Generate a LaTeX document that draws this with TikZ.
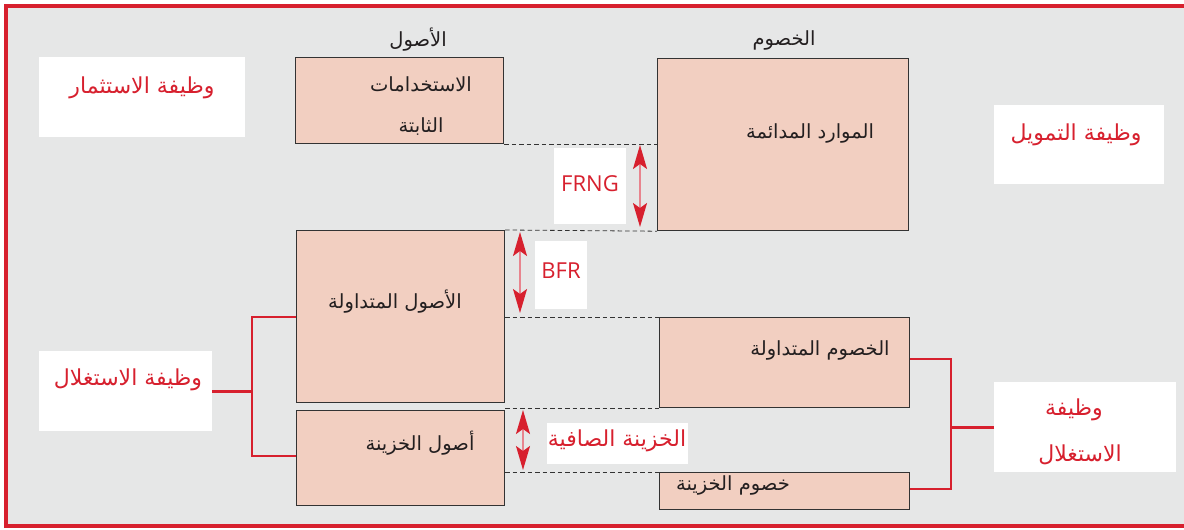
\documentclass[tikz,border=0pt]{standalone}
\usepackage{fontspec}
\setsansfont{Open Sans}
\newfontfamily\ar[Script=Arabic]{DejaVu Sans}
\TeXXeTstate=1
\usetikzlibrary{arrows.meta}
\definecolor{bgray}{HTML}{E6E7E7}
\definecolor{fred}{HTML}{D7202E}
\definecolor{shaft}{HTML}{E8848E}
\definecolor{peach}{HTML}{F2CFC1}
\definecolor{edge}{HTML}{333333}
\definecolor{ink}{HTML}{231F20}
\newcommand{\AR}[1]{{\ar\beginR #1\endR}}
\tikzset{
  x=1pt, y=-1pt,
  box/.style={draw=edge, fill=peach, line width=1.2pt, inner sep=0pt, anchor=north west},
  tag/.style={fill=white, inner sep=0pt, anchor=north west},
  btxt/.style={text=ink, font=\fontsize{19.5}{22}\selectfont, inner sep=0pt},
  rtxt/.style={text=fred, font=\fontsize{22}{26}\selectfont, inner sep=0pt},
  ltxt/.style={text=fred, font=\sffamily\fontsize{22}{26}\selectfont, inner sep=0pt},
  guide/.style={draw=edge, dashed, dash pattern=on 4.5pt off 3pt, line width=0.8pt},
  redline/.style={draw=fred, line width=2.6pt},
  dblarrow/.style={draw=shaft, line width=1.8pt,
    {Stealth[length=24pt,width=14pt,inset=5pt,color=fred]}-{Stealth[length=24pt,width=14pt,inset=5pt,color=fred]}}
}
\begin{document}
\begin{tikzpicture}
\useasboundingbox (0,0) rectangle (1184,530);
% background and open frame
\fill[bgray] (6,6) rectangle (1184,526);
\draw[fred, line width=4pt] (1184,6) -- (6,6) -- (6,526) -- (1184,526);

% column headings
\node[btxt] (hA) at (418,40) {\AR{الأصول}};
\node[btxt] (hL) at (784,40) {\AR{الخصوم}};

% balance-sheet blocks
\node[box, minimum width=208pt, minimum height=86pt] (fa) at (295,57) {};
\node[box, minimum width=251pt, minimum height=172pt] (pr) at (657,58) {};
\node[box, minimum width=208pt, minimum height=172pt] (ca) at (296,230) {};
\node[box, minimum width=208pt, minimum height=95pt] (ta) at (296,410) {};
\node[box, minimum width=250pt, minimum height=90pt] (cl) at (659,317) {};
\node[box, minimum width=250pt, minimum height=37pt] (tl) at (659,472) {};

% block texts
\node[btxt] (faA) at (421,84) {\AR{الاستخدامات}};
\node[btxt] (faB) at (421,127) {\AR{الثابتة}};
\node[btxt] (prT) at (810,133) {\AR{الموارد المدائمة}};
\node[btxt] (caT) at (395,302) {\AR{الأصول المتداولة}};
\node[btxt] (taT) at (420,443) {\AR{أصول الخزينة}};
\node[btxt] (clT) at (820,350) {\AR{الخصوم المتداولة}};
\node[btxt] (tlT) at (733,485) {\AR{خصوم الخزينة}};

% function tags
\node[tag, minimum width=206pt, minimum height=80pt] (inv) at (39,57) {};
\node[rtxt] (invT) at (142,88) {\AR{وظيفة الاستثمار}};
\node[tag, minimum width=170pt, minimum height=79pt] (fin) at (994,105) {};
\node[rtxt] (finT) at (1076,135) {\AR{وظيفة التمويل}};
\node[tag, minimum width=173pt, minimum height=80pt] (expL) at (39,351) {};
\node[rtxt] (expLT) at (128,380) {\AR{وظيفة الاستغلال}};
\node[tag, minimum width=182pt, minimum height=90pt] (expR) at (994,382) {};
\node[rtxt] (expRa) at (1074,410) {\AR{وظيفة}};
\node[rtxt] (expRb) at (1080,455) {\AR{الاستغلال}};

% dashed guide lines between the two columns
\draw[guide] (fa.south east) -- (fa.south east -| pr.west);
\draw[guide] (ca.north east) -- (pr.south west);
\draw[guide] (ca.east |- cl.north west) -- (cl.north west);
\draw[guide] (ca.east |- cl.south west) -- (cl.south west);
\draw[guide] (ta.east |- tl.north west) -- (tl.north west);

% gap labels
\node[tag, minimum width=72pt, minimum height=76pt] (frngB) at (554,148) {};
\node[ltxt] (frngT) at (590,184) {FRNG};
\node[tag, minimum width=52pt, minimum height=68pt] (bfrB) at (535,241) {};
\node[ltxt] (bfrT) at (561,271) {BFR};
\node[tag, minimum width=141pt, minimum height=41pt] (ntB) at (547,423) {};
\node[rtxt] (ntT) at (617,441) {\AR{الخزينة الصافية}};

% double-headed measures
\coordinate (f1) at (640,145);
\coordinate (f2) at (640,227);
\coordinate (b1) at (520,232);
\coordinate (b2) at (520,313);
\coordinate (t1) at (523,410);
\coordinate (t2) at (523,470);
\draw[dblarrow] (f1) -- (f2);
\draw[dblarrow] (b1) -- (b2);
\draw[dblarrow] (t1) -- (t2);

% brackets joining blocks to their function
\coordinate (lbx) at (252,0);
\coordinate (rbx) at (951,0);
\draw[redline] (ca.west |- 0,317) -- (lbx |- 0,317) -- (lbx |- 0,456) -- (ta.west |- 0,456);
\draw[redline] (expL.east) -- (expL.east -| lbx);
\draw[redline] (cl.east |- 0,359) -- (rbx |- 0,359) -- (rbx |- 0,489) -- (tl.east |- 0,489);
\draw[redline] (expR.west) -- (expR.west -| rbx);
\end{tikzpicture}
\end{document}
